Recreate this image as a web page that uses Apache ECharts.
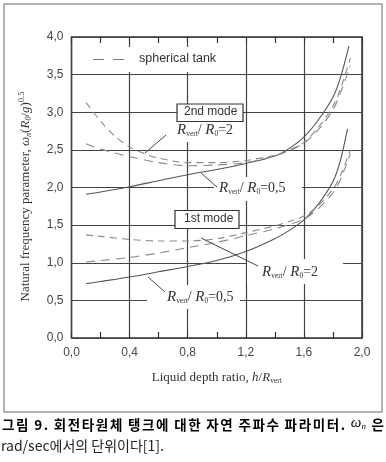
<!DOCTYPE html>
<html><head><meta charset="utf-8">
<script src="https://cdn.jsdelivr.net/npm/echarts@6/dist/echarts.min.js"></script>
<style>html,body{margin:0;padding:0;background:#fff}#c{width:386px;height:462px}</style>
</head><body><div id="c"></div>
<script>
// ---- data ----
const xTickValues = [0, 0.4, 0.8, 1.2, 1.6, 2.0];
const yTickValues = [0, 0.5, 1.0, 1.5, 2.0, 2.5, 3.0, 3.5, 4.0];

// 2nd mode
const m2_r05_x = [0.1, 0.2, 0.4, 0.6, 0.8, 1.0, 1.2, 1.4, 1.5, 1.6, 1.7, 1.8, 1.85, 1.91];
const m2_r05_y = [1.91, 1.94, 2.01, 2.09, 2.17, 2.24, 2.32, 2.42, 2.52, 2.67, 2.90, 3.20, 3.45, 3.88];
const m2_r2_x  = [0.1, 0.2, 0.3, 0.4, 0.5, 0.6, 0.8, 1.0, 1.2, 1.4, 1.5, 1.6, 1.7, 1.8, 1.85, 1.92];
const m2_r2_y  = [3.13, 2.88, 2.68, 2.54, 2.45, 2.39, 2.33, 2.33, 2.36, 2.43, 2.50, 2.60, 2.80, 3.08, 3.30, 3.72];
const m2_sph_x = [0.1, 0.2, 0.4, 0.6, 0.8, 1.0, 1.2, 1.4, 1.5, 1.6, 1.7, 1.8, 1.85, 1.92];
const m2_sph_y = [2.58, 2.51, 2.41, 2.33, 2.29, 2.30, 2.33, 2.42, 2.49, 2.59, 2.77, 3.03, 3.25, 3.62];

// 1st mode
const m1_r05_x = [0.1, 0.2, 0.4, 0.6, 0.8, 1.0, 1.2, 1.4, 1.5, 1.6, 1.7, 1.8, 1.85, 1.9];
const m1_r05_y = [0.72, 0.75, 0.81, 0.88, 0.95, 1.03, 1.15, 1.32, 1.43, 1.57, 1.78, 2.08, 2.35, 2.78];
const m1_r2_x  = [0.1, 0.2, 0.4, 0.6, 0.8, 1.0, 1.2, 1.4, 1.5, 1.6, 1.7, 1.8, 1.85, 1.92];
const m1_r2_y  = [1.37, 1.35, 1.31, 1.29, 1.29, 1.32, 1.40, 1.49, 1.55, 1.62, 1.76, 1.98, 2.15, 2.50];
const m1_sph_x = [0.1, 0.2, 0.4, 0.6, 0.8, 1.0, 1.2, 1.4, 1.5, 1.6, 1.7, 1.8, 1.85, 1.92];
const m1_sph_y = [1.01, 1.03, 1.07, 1.13, 1.20, 1.27, 1.36, 1.45, 1.51, 1.58, 1.72, 1.93, 2.10, 2.45];

const legendText = 'spherical tank';
const captionWords1 = ['그림', '9.', '회전타원체', '탱크에', '대한', '자연', '주파수', '파라미터.', 'ω_n', '은'];
const captionLine2 = 'rad/sec에서의 단위이다[1].';

// ---- chart ----
const SERIF = '"Liberation Serif","DejaVu Serif",serif';
const SANS = '"Liberation Sans",Arial,sans-serif';
const KR = '"Noto Sans CJK KR",sans-serif';
const pair = (xs, ys) => xs.map((x, i) => [x, ys[i]]);
const fmt = v => Number(v).toFixed(1).replace('.', ',');

function mkSeries(name, xs, ys, kind) {
  const styles = {
    solid: { color: '#555', width: 1.1, type: 'solid' },
    r2: { color: '#8a8a8a', width: 1.1, type: [7, 5] },
    sph: { color: '#8a8a8a', width: 1.1, type: [9, 6] }
  };
  return {
    name, type: 'line', data: pair(xs, ys), showSymbol: false, smooth: 0.3,
    lineStyle: styles[kind], silent: true, z: 3
  };
}

const chart = echarts.init(document.getElementById('c'), null, { renderer: 'canvas' });

const richLabel = {
  it: { fontFamily: SERIF, fontStyle: 'italic', fontSize: 15, color: '#333' },
  sub: { fontFamily: SERIF, fontSize: 7.5, color: '#333', padding: [7, 0, 0, 0] },
  n: { fontFamily: SERIF, fontSize: 14, color: '#333' }
};
const ratioText = v => '{it|R}{sub|vert}{n|/ }{it|R}{sub|0}{n|=' + v + '}';

function textEl(left, top, text, extra) {
  return {
    type: 'text', left, top, z: 50,
    style: Object.assign({ text, rich: richLabel, fill: '#333' }, extra || {})
  };
}
function rectEl(x, y, w, h, stroke) {
  return {
    type: 'rect', z: 40, shape: { x, y, width: w, height: h },
    style: { fill: '#fff', stroke: stroke || null, lineWidth: stroke ? 1.2 : 0 }
  };
}
function lineEl(x1, y1, x2, y2, dash, color) {
  return {
    type: 'line', z: 55, shape: { x1, y1, x2, y2 },
    style: { stroke: color || '#444', lineWidth: 1, lineDash: dash || null }
  };
}

// caption line 1: justified across the frame width, with light letter spacing
const capFontK = 'bold 13.5px ' + KR;
const capFontW = 'italic 15px ' + SERIF;
const capFontWs = 'italic 9px ' + SERIF;
const letterSp = 1.6;
const mctx = document.createElement('canvas').getContext('2d');
function measure(font, t) { mctx.font = font; return mctx.measureText(t).width; }
const wordChars = captionWords1.map(w => w === 'ω_n' ? [w] : Array.from(w));
const charW = wordChars.map(chs => chs.map(c => c === 'ω_n'
  ? measure(capFontW, 'ω') + measure(capFontWs, 'n')
  : measure(capFontK, c)));
const wordWidths = charW.map(ws => ws.reduce((a, b) => a + b, 0) + letterSp * (ws.length - 1));
const capStart = 2, capEnd = 384;
const capGap = (capEnd - capStart - wordWidths.reduce((a, b) => a + b, 0)) / (captionWords1.length - 1);
const captionRich = {
  k: { fontFamily: KR, fontSize: 13.5, fontWeight: 'bold', color: '#222' },
  w: { fontFamily: SERIF, fontStyle: 'italic', fontSize: 15, color: '#222' },
  ws: { fontFamily: SERIF, fontStyle: 'italic', fontSize: 9, color: '#222', padding: [7, 0, 0, 0] }
};
const captionEls = [];
let capX = capStart;
wordChars.forEach((chs, wi) => {
  let cx = capX;
  chs.forEach((c, ci) => {
    captionEls.push({
      type: 'text', z: 50, left: cx, top: c === 'ω_n' ? 416 : 418,
      style: { text: c === 'ω_n' ? '{w|ω}{ws|n}' : '{k|' + c + '}', rich: captionRich }
    });
    cx += charW[wi][ci] + letterSp;
  });
  capX += wordWidths[wi] + capGap;
});

const graphics = [
  // outer frame
  { type: 'rect', z: 1, shape: { x: 4, y: 4, width: 378, height: 408 }, style: { fill: 'none', stroke: '#9a9a9a', lineWidth: 1.5 } },
  // legend
  rectEl(88, 47, 140, 25),
  lineEl(93, 59.5, 131, 59.5, [11, 9], '#777'),
  { type: 'text', z: 50, left: 139, top: 52, style: { text: legendText, font: '12.5px ' + SANS, fill: '#333' } },
  // 2nd mode box
  rectEl(177, 104, 66, 17.5, '#333'),
  { type: 'text', z: 50, left: 184, top: 106, style: { text: '2nd mode', font: '12px ' + SANS, fill: '#333' } },
  // 2nd mode Rvert/R0=2 label
  rectEl(170, 122, 68, 20),
  textEl(177, 123, ratioText('2')),
  lineEl(166, 135, 145, 153),
  // 2nd mode Rvert/R0=0.5 label
  rectEl(214, 177, 88, 24),
  textEl(219, 181, ratioText('0,5')),
  lineEl(217, 187, 201, 173),
  // 1st mode box
  rectEl(175, 210.5, 64, 18, '#333'),
  { type: 'text', z: 50, left: 184, top: 213, style: { text: '1st mode', font: '12px ' + SANS, fill: '#333' } },
  // 1st mode Rvert/R0=2 label
  rectEl(247, 259, 96, 25),
  textEl(262, 265, ratioText('2')),
  lineEl(258, 266, 201, 238),
  // 1st mode Rvert/R0=0.5 label
  rectEl(147, 285, 93, 24),
  textEl(167, 290, ratioText('0,5')),
  lineEl(165, 292, 148, 277),
  // caption
  ...captionEls,
  { type: 'text', z: 50, left: 1, top: 439, style: { text: captionLine2, font: '14px ' + KR, fill: '#222' } }
];

const option = {
  backgroundColor: '#fff',
  animation: false,
  grid: { left: 71.5, right: 24, top: 37, bottom: 124, show: true, borderColor: '#333', borderWidth: 1.5, backgroundColor: 'transparent' },
  xAxis: [{
    type: 'value', min: xTickValues[0], max: xTickValues[xTickValues.length - 1], interval: 0.4,
    axisLine: { show: false },
    axisTick: { show: true, inside: true, length: 6, lineStyle: { color: '#333' } },
    minorTick: { show: true, splitNumber: 2, length: 6, lineStyle: { color: '#333', width: 1.2 } },
    splitLine: { show: true, lineStyle: { color: '#444', width: 1.2 } },
    axisLabel: { formatter: fmt, color: '#444', fontFamily: SANS, fontSize: 12, margin: 9 },
    name: '{n|Liquid depth ratio, }{it|h}{n|/}{it|R}{sub|vert}',
    nameLocation: 'middle', nameGap: 33,
    nameTextStyle: { rich: {
      n: { fontFamily: SERIF, fontSize: 13, color: '#333' },
      it: { fontFamily: SERIF, fontStyle: 'italic', fontSize: 13, color: '#333' },
      sub: { fontFamily: SERIF, fontSize: 7.5, color: '#333', padding: [6, 0, 0, 0] }
    } }
  }, {
    type: 'value', position: 'top', min: xTickValues[0], max: xTickValues[xTickValues.length - 1], interval: 0.4,
    axisLine: { show: false },
    axisTick: { show: true, inside: true, length: 6, lineStyle: { color: '#333' } },
    minorTick: { show: true, splitNumber: 2, length: 6, lineStyle: { color: '#333', width: 1.2 } },
    splitLine: { show: false }, axisLabel: { show: false }
  }],
  yAxis: {
    type: 'value', min: yTickValues[0], max: yTickValues[yTickValues.length - 1], interval: 0.5,
    axisLine: { show: false }, axisTick: { show: false },
    splitLine: { show: true, lineStyle: { color: '#444', width: 1.2 } },
    axisLabel: { formatter: fmt, color: '#444', fontFamily: SANS, fontSize: 12, margin: 8 },
    name: '{n|Natural frequency parameter, }{it|ω}{sub|n}{n|(}{it|R}{sub|0}{n|/}{it|g}{n|)}{sup|0.5}',
    nameLocation: 'middle', nameGap: 37, nameRotate: 90,
    nameTextStyle: { padding: [0, 0, 0, -18], rich: {
      n: { fontFamily: SERIF, fontSize: 13, color: '#333' },
      it: { fontFamily: SERIF, fontStyle: 'italic', fontSize: 13, color: '#333' },
      sub: { fontFamily: SERIF, fontStyle: 'italic', fontSize: 8, color: '#333', padding: [6, 0, 0, 0] },
      sup: { fontFamily: SERIF, fontSize: 8.5, color: '#333', padding: [0, 0, 8, 0] }
    } }
  },
  series: [
    mkSeries('2nd R0.5', m2_r05_x, m2_r05_y, 'solid'),
    mkSeries('2nd R2', m2_r2_x, m2_r2_y, 'r2'),
    mkSeries('2nd spherical', m2_sph_x, m2_sph_y, 'sph'),
    mkSeries('1st R0.5', m1_r05_x, m1_r05_y, 'solid'),
    mkSeries('1st R2', m1_r2_x, m1_r2_y, 'r2'),
    mkSeries('1st spherical', m1_sph_x, m1_sph_y, 'sph')
  ],
  graphic: graphics
};
chart.setOption(option);
</script></body></html>
